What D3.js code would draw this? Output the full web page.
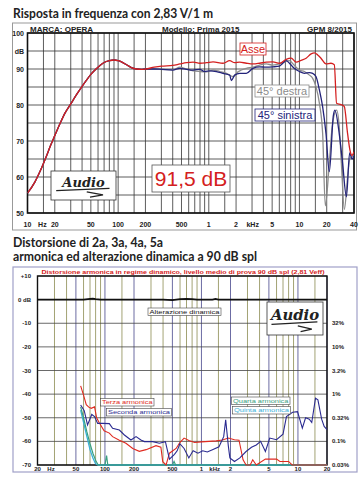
<!DOCTYPE html>
<html><head><meta charset="utf-8">
<script src="https://cdn.jsdelivr.net/npm/d3@7"></script>
<style>body{margin:0;background:#fff}svg{display:block}</style>
</head><body>
<svg id="c" width="360" height="480"></svg>
<script>
// ---------- DATA: frequency response (top) ----------
const commonF  = [10,12,14,16,18,20,23,26,30,35,40,45,50,56,63,70,80,90,100,110,125,140,160,180,200];
const commonDb = [55.5,58.5,62,65.5,68.8,71.5,75,77.8,80.3,83,85.2,87,88.5,89.8,91,91.8,92.3,92.5,92.3,91.9,91.1,90.4,90.0,89.9,90.0];

const asseF  = [250,300,400,480,568,672,796,943,1115,1436,1701,1930,2192,2595,3070,3633,4303,5093,6026,7139,8110,9200,10450,11860,13460,14630,15900,17280,19630,22280,24250,25700,28700,31250,33970,36060,38000,40000];
const asseDb = [90.5,90.8,91.0,91.4,91.75,91.9,91.6,91.75,92.0,91.6,92.3,91.75,91.9,91.6,91.4,91.6,91.9,92.0,91.6,92.7,93.0,91.9,92.4,93.0,94.2,94.5,93.9,93.0,91.4,91.6,91.2,80.5,80.1,79.6,72.1,67.5,66,67];

const destraF  = [250,300,400,480,568,672,796,943,1115,1321,1565,1850,2100,2595,3070,3633,4303,5093,6026,6840,7760,8730,10000,11350,12880,14000,15230,16600,18040,19300,21370,23000,25700,27500,29000,31300,34000,36000,40000];
const destraDb = [90.0,89.9,89.8,90.5,90.0,89.5,89.3,89.2,89.7,89.3,88.8,87.9,89.2,90.2,90.5,91.1,91.4,91.1,91.4,92.0,92.3,91.1,89.7,89.3,88.3,87.4,85.1,80.5,72,52,64,74,78.6,74,64,51,60,65,66];

const sinistraF  = [250,300,400,480,568,672,796,903,1026,1215,1436,1701,1775,1930,2192,2595,3070,3633,4303,5093,6026,6560,7139,7760,8730,10000,11350,12880,14000,15230,16600,18040,19630,21370,23650,24600,27500,29900,33000,35800,38000,40000];
const sinistraDb = [90.0,89.9,89.7,90.2,89.9,89.7,89.9,89.3,89.5,89.3,88.8,88.3,86.8,88.3,88.8,88.8,90.2,90.6,90.5,90.6,90.8,91.6,92.3,91.6,90.2,89.3,88.8,89.0,88.8,87.9,84.2,79.5,72.1,61.5,77,78.6,72,64,54.5,66.7,65,66];

const topTickVals   = [10,20,50,100,200,500,1000,2000,5000,10000,20000,40000];
const topTickLabels = ["10","20","50","100","200","500","1","2","5","10","20","40"];
const topYVals   = [100,90,80,70,60,50];

// ---------- DATA: distortion (bottom) ----------
const h2F  = [56,61,66,73,78,84,95,111,120,141,159,186,210,236,256,313,366,423,466,525,560,597,661,740,820,920,1030,1150,1300,1520,1700,1783,1900,1970,2200,2500,2900,3300,3700,4100,4600,5100,6000,7000,7600,8800,9900,11100,12000,13100,13900,15200,16100,17600,18700,20000];
const h2Db = [-44.6,-47,-53,-48.6,-49.5,-52.4,-52.4,-52.5,-54.5,-55.2,-57.3,-59.4,-58,-59.4,-60.1,-60.1,-60.8,-60.1,-67.5,-65.5,-64,-61,-63,-67,-64,-65,-64,-64.5,-63.5,-62.3,-58,-50.9,-62,-67,-68.5,-67,-64.3,-62.5,-61.5,-60,-64.3,-58.6,-59.3,-57,-49.5,-47.7,-47.4,-54.4,-50,-50.6,-52,-41.7,-42.4,-50.6,-53.7,-55];

const h3F  = [56,60,64,68,72,78,82,87,98,111,120,141,165,194,227,267,338,380,397,430,466,546,597,661,740,850,1000,1200,1420,1650,1900,2200,2450,2700,2900,3200,3400,3700,4600,6000,6500,8000,8700,20000];
const h3Db = [-36.5,-40.4,-44.5,-45.5,-46,-45.4,-50,-52,-55.5,-56.5,-58,-59.5,-60.8,-63,-64.2,-63.5,-61.8,-62.5,-68.6,-70,-65,-63,-60.5,-58.6,-59.6,-60.5,-60.2,-60,-59.8,-59.4,-58.6,-59.3,-59.5,-67.8,-70,-70,-67.8,-70,-67.5,-67.5,-68.5,-68.5,-70,-70];

const h4F  = [56,60,65,70,75,80,85,100,104,107,500,520,540,20000];
const h4Db = [-45.4,-50,-56,-61,-65,-68,-70,-70,-66,-70,-70,-68.5,-70,-70];

const h5F  = [56,60,65,70,75,80,85,20000];
const h5Db = [-46.8,-52,-58,-63.5,-67,-69.5,-70,-70];

const dynF  = [20,60,70,75,80,90,400,500,600,700,800,900,1300,1400,1500,20000];
const dynDb = [0,0,0.3,0.4,0.2,0,0,-0.2,0.2,0.3,0.2,0,0,0.3,0,0];

const botTickVals   = [20,50,100,200,500,1000,2000,5000,10000,20000];
const botTickLabels = ["20","50","100","200","500","1","2","5","10","20"];
const botYVals   = [10,0,-10,-20,-30,-40,-50,-60,-70];
const botYLabels = ["+10","0 dB","-10","-20","-30","-40","-50","-60","-70"];
const pctVals    = [-10,-20,-30,-40,-50,-60,-70];
const pctLabels  = ["32%","10%","3.2%","1%","0.32%","0.1%","0.03%"];

// ---------- DRAW ----------
const svg = d3.select("#c");
const F = "'Liberation Sans', Arial, sans-serif";
const zip = (a,b) => a.map((f,i)=>({f, v:b[i]}));

function gridFreqs(lo, hi){
  const out=[];
  for(let d=1; d<=100000; d*=10) [1,1.5,2,3,4,5,6,7,8,9].forEach(m=>{const f=m*d; if(f>=lo&&f<=hi) out.push(f);});
  return out;
}

function logo(g, x0, y0, w, h){
  g.append("rect").attr("x",x0).attr("y",y0).attr("width",w).attr("height",h).attr("fill","#fff").attr("stroke","#333").attr("stroke-width",0.8);
  g.append("text").attr("x",x0+w*0.5).attr("y",y0+h*0.55).attr("text-anchor","middle")
    .attr("font-family","'DejaVu Serif', serif").attr("font-style","italic").attr("font-weight","bold")
    .attr("font-size",h*0.45).attr("fill","#222").text("Audio");
  const p = d3.path();
  p.moveTo(x0+w*0.08,y0+h*0.68); p.lineTo(x0+w*0.9,y0+h*0.6);
  p.moveTo(x0+w*0.55,y0+h*0.72); p.lineTo(x0+w*0.8,y0+h*0.82); p.lineTo(x0+w*0.6,y0+h*0.9);
  g.append("path").attr("d",p.toString()).attr("fill","none").attr("stroke","#222").attr("stroke-width",1.3);
}

// Titles
svg.append("text").attr("x",13).attr("y",18).attr("font-family","Lato, sans-serif").attr("font-weight",700)
  .attr("font-size",12.5).attr("fill","#222").attr("textLength",200).attr("lengthAdjust","spacingAndGlyphs")
  .text("Risposta in frequenza con 2,83 V/1 m");
svg.append("text").attr("x",13).attr("y",247).attr("font-family","Lato, sans-serif").attr("font-weight",700)
  .attr("font-size",12.5).attr("fill","#222").attr("textLength",150).attr("lengthAdjust","spacingAndGlyphs")
  .text("Distorsione di 2a, 3a, 4a, 5a");
svg.append("text").attr("x",13).attr("y",261).attr("font-family","Lato, sans-serif").attr("font-weight",700)
  .attr("font-size",12.5).attr("fill","#222").attr("textLength",244).attr("lengthAdjust","spacingAndGlyphs")
  .text("armonica ed alterazione dinamica a 90 dB spl");

// ===== TOP CHART =====
const xT = d3.scaleLog().domain([10,40000]).range([27.5,354]);
const yT = d3.scaleLinear().domain([50,100]).range([213,33]);
const topG = svg.append("g");
topG.append("rect").attr("x",12.5).attr("y",23).attr("width",344).attr("height",207).attr("fill","#fff").attr("stroke","#999").attr("stroke-width",1);

topG.append("defs").append("clipPath").attr("id","clipT").append("rect")
  .attr("x",xT.range()[0]).attr("y",yT(100)).attr("width",xT.range()[1]-xT.range()[0]).attr("height",yT(50)-yT(100));

const gT = topG.append("g");
gT.selectAll("line.v").data(gridFreqs(10,40000)).join("line")
  .attr("x1",d=>xT(d)).attr("x2",d=>xT(d)).attr("y1",yT(100)).attr("y2",yT(50)).attr("stroke","#333").attr("stroke-width",0.8);
gT.selectAll("line.h").data(d3.range(50,101,5)).join("line")
  .attr("x1",xT.range()[0]).attr("x2",xT.range()[1]).attr("y1",d=>yT(d)).attr("y2",d=>yT(d)).attr("stroke","#333").attr("stroke-width",0.8);
gT.append("rect").attr("x",xT.range()[0]).attr("y",yT(100)).attr("width",xT.range()[1]-xT.range()[0]).attr("height",yT(50)-yT(100))
  .attr("fill","none").attr("stroke","#111").attr("stroke-width",1.6);

// header
const hdr = topG.append("g").attr("font-family",F).attr("font-weight","bold").attr("font-size",8).attr("fill","#222");
hdr.append("text").attr("x",30).attr("y",31.5).text("MARCA: OPERA");
hdr.append("text").attr("x",162).attr("y",31.5).text("Modello: Prima 2015");
hdr.append("text").attr("x",352).attr("y",31.5).attr("text-anchor","end").text("GPM 8/2015");

// axes labels
const axT = topG.append("g").attr("font-family",F).attr("font-weight","bold").attr("font-size",7).attr("fill","#222");
axT.selectAll("text.y").data(topYVals).join("text").attr("x",24).attr("y",d=>yT(d)+2.5).attr("text-anchor","end").text(d=>d);
axT.append("text").attr("x",24).attr("y",yT(95)+2.5).attr("text-anchor","end").text("dB");
axT.selectAll("text.x").data(topTickVals).join("text").attr("x",d=>xT(d)).attr("y",227).attr("text-anchor","middle")
  .text((d,i)=>topTickLabels[i]);
axT.append("text").attr("x",xT(14.6)).attr("y",227).attr("text-anchor","middle").text("Hz");
axT.append("text").attr("x",xT(3050)).attr("y",227).attr("text-anchor","middle").text("kHz");

// logo + 91,5 dB box (under curves)
logo(topG, 51, 171, 65, 29);
topG.append("rect").attr("x",152).attr("y",165).attr("width",78).attr("height",27).attr("fill","#fff").attr("stroke","#555").attr("stroke-width",0.8);
topG.append("text").attr("x",191).attr("y",186).attr("text-anchor","middle").attr("font-family",F).attr("font-size",21).attr("fill","#d42020").text("91,5 dB");

const lineT = d3.line().x(d=>xT(d.f)).y(d=>yT(d.v)).curve(d3.curveMonotoneX);
const curves = topG.append("g").attr("clip-path","url(#clipT)").attr("fill","none").attr("stroke-width",1.3);
curves.append("path").attr("d",lineT(zip(commonF.concat(destraF),commonDb.concat(destraDb)))).attr("stroke","#8c8c8c");
curves.append("path").attr("d",lineT(zip(commonF.concat(sinistraF),commonDb.concat(sinistraDb)))).attr("stroke","#23237a");
curves.append("path").attr("d",lineT(zip(commonF.concat(asseF),commonDb.concat(asseDb)))).attr("stroke","#d42020");

// curve labels
function tag(g,x,y,w,h,txt,col,fs){
  g.append("rect").attr("x",x).attr("y",y).attr("width",w).attr("height",h).attr("fill","#fff").attr("stroke",col).attr("stroke-width",0.8);
  g.append("text").attr("x",x+w/2).attr("y",y+h-2.2).attr("text-anchor","middle").attr("font-family",F).attr("font-size",fs).attr("fill",col).text(txt);
}
tag(topG,240,43,26,12,"Asse","#d42020",11);
tag(topG,255,85,54,12,"45° destra","#8c8c8c",11);
tag(topG,255,109,60,12,"45° sinistra","#23237a",11);

// ===== BOTTOM CHART =====
const xB = d3.scaleLog().domain([20,20000]).range([37.5,327]);
const yB = d3.scaleLinear().domain([-70,10]).range([465,276]);
const botG = svg.append("g");
botG.append("rect").attr("x",13).attr("y",267).attr("width",344).attr("height",205).attr("fill","#fff").attr("stroke","#a0a0c8").attr("stroke-width",1.2);
botG.append("defs").append("clipPath").attr("id","clipB").append("rect")
  .attr("x",xB.range()[0]).attr("y",yB(10)-1).attr("width",xB.range()[1]-xB.range()[0]).attr("height",yB(-70)-yB(10)+2);

const gB = botG.append("g");
gB.selectAll("line.v").data(gridFreqs(20,20000)).join("line")
  .attr("x1",d=>xB(d)).attr("x2",d=>xB(d)).attr("y1",yB(10)).attr("y2",yB(-70))
  .attr("stroke",d=>{const m=d/Math.pow(10,Math.floor(Math.log10(d)+1e-9)); return (m===1||m===2||m===5)?"#46468c":"#8c8c50";})
  .attr("stroke-width",0.8);
gB.selectAll("line.h").data(d3.range(-70,11,10)).join("line")
  .attr("x1",xB.range()[0]).attr("x2",xB.range()[1]).attr("y1",d=>yB(d)).attr("y2",d=>yB(d)).attr("stroke","#444").attr("stroke-width",0.8);
gB.append("rect").attr("x",xB.range()[0]).attr("y",yB(10)).attr("width",xB.range()[1]-xB.range()[0]).attr("height",yB(-70)-yB(10))
  .attr("fill","none").attr("stroke","#111").attr("stroke-width",1.4);

botG.append("text").attr("x",183).attr("y",273.5).attr("text-anchor","middle").attr("font-family",F).attr("font-weight","bold")
  .attr("font-size",6.2).attr("fill","#d42020").attr("textLength",283).attr("lengthAdjust","spacingAndGlyphs")
  .text("Distorsione armonica in regime dinamico, livello medio di prova 90 dB spl (2,81 Veff)");

const axB = botG.append("g").attr("font-family",F).attr("font-weight","bold").attr("font-size",6).attr("fill","#222");
axB.selectAll("text.y").data(botYVals).join("text").attr("x",31).attr("y",d=>yB(d)+2).attr("text-anchor","end").text((d,i)=>botYLabels[i]);
axB.selectAll("text.p").data(pctVals).join("text").attr("x",332).attr("y",d=>yB(d)+2).text((d,i)=>pctLabels[i]);
axB.selectAll("text.x").data(botTickVals).join("text").attr("x",d=>xB(d)).attr("y",471).attr("text-anchor","middle").text((d,i)=>botTickLabels[i]);
axB.append("text").attr("x",xB(27.6)).attr("y",471).attr("text-anchor","middle").text("Hz");
axB.append("text").attr("x",xB(1370)).attr("y",471).attr("text-anchor","middle").text("kHz");

logo(botG, 267, 302, 56, 33);

const lineB = d3.line().x(d=>xB(d.f)).y(d=>yB(d.v));
const cb = botG.append("g").attr("clip-path","url(#clipB)").attr("fill","none");
cb.append("path").attr("d",lineB(zip(dynF,dynDb))).attr("stroke","#111").attr("stroke-width",1.6);
cb.append("path").attr("d",lineB(zip(h5F,h5Db))).attr("stroke","#3ab0d8").attr("stroke-width",1.3);
cb.append("path").attr("d",lineB(zip(h4F,h4Db))).attr("stroke","#3aa080").attr("stroke-width",1.2);
cb.append("path").attr("d",lineB(zip(h3F,h3Db))).attr("stroke","#e02a20").attr("stroke-width",1.1);
cb.append("path").attr("d",lineB(zip(h2F,h2Db))).attr("stroke","#2a2a90").attr("stroke-width",1.1);

function tagS(g,x,y,w,h,txt,col){
  g.append("rect").attr("x",x).attr("y",y).attr("width",w).attr("height",h).attr("fill","#fff").attr("stroke","#444").attr("stroke-width",0.6);
  g.append("text").attr("x",x+w/2).attr("y",y+h-1.6).attr("text-anchor","middle").attr("font-family",F).attr("font-size",6.2)
    .attr("fill",col).attr("textLength",w-3).attr("lengthAdjust","spacingAndGlyphs").text(txt);
}
tagS(botG,148,308,73,7.5,"Alterazione dinamica","#111");
tagS(botG,100.5,398.5,53.5,7.5,"Terza armonica","#e02a20");
tagS(botG,106.5,408.5,65,7.5,"Seconda armonica","#2a2a90");
tagS(botG,231.5,397,58.5,7.5,"Quarta armonica","#3aa080");
tagS(botG,232.5,406.5,58,7.5,"Quinta armonica","#3ab0d8");
</script>
</body></html>
